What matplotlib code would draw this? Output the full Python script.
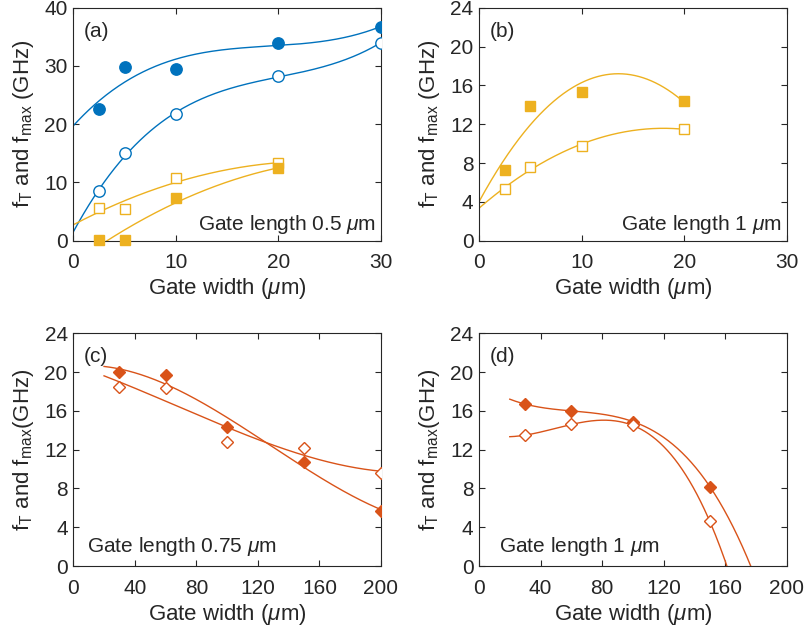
import numpy as np
import matplotlib.pyplot as plt

plt.rcParams['font.family'] = ['Liberation Sans', 'DejaVu Sans']
plt.rcParams['mathtext.fontset'] = 'custom'
plt.rcParams['mathtext.rm'] = 'Liberation Sans'
plt.rcParams['mathtext.it'] = 'Liberation Sans:italic'
plt.rcParams['text.color'] = '#262626'
plt.rcParams['axes.labelcolor'] = '#262626'
plt.rcParams['xtick.color'] = '#262626'
plt.rcParams['ytick.color'] = '#262626'

blue = '#0072BD'
yellow = '#EDB120'
orange = '#D95319'

# (a) gate length 0.5 um
wa = [2.5, 5, 10, 20, 30]
a_fill_circ = [22.6, 29.9, 29.5, 34.0, 36.7]
a_open_circ = [8.5, 15.0, 21.7, 28.2, 34.0]
wa_sq = [2.5, 5, 10, 20]
a_open_sq = [5.7, 5.5, 10.7, 13.3]
a_fill_sq = [0.1, 0.1, 7.4, 12.4]

# (b) gate length 1 um
wb = [2.5, 5, 10, 20]
b_fill_sq = [7.3, 13.9, 15.3, 14.4]
b_open_sq = [5.3, 7.6, 9.8, 11.5]

# (c) gate length 0.75 um
wc = [30, 60, 100, 150, 200]
c_fill_dia = [20.0, 19.7, 14.3, 10.7, 5.7]
c_open_dia = [18.5, 18.4, 12.8, 12.2, 9.6]

# (d) gate length 1 um
wd = [30, 60, 100, 150]
d_fill_dia = [16.7, 16.0, 14.9, 8.2]
d_open_dia = [13.5, 14.6, 14.5, 4.6]

ylab = r'f$_\mathrm{T}$ and f$_\mathrm{max}$ (GHz)'
ylab2 = r'f$_\mathrm{T}$ and f$_\mathrm{max}$(GHz)'
xlab = r'Gate width ($\mu$m)'

TICK_FS = 15
LAB_FS = 16
TXT_FS = 15


def fit(ax, x, y, deg, x0, x1, color):
    p = np.polyfit(x, y, deg)
    xs = np.linspace(x0, x1, 300)
    ax.plot(xs, np.polyval(p, xs), color=color, lw=1.0, zorder=2)


def style(ax, xlim, xt, ylim, yt, yl):
    ax.set_xlim(xlim)
    ax.set_ylim(ylim)
    ax.set_xticks(xt)
    ax.set_yticks(yt)
    ax.tick_params(direction='in', length=4, width=0.8, labelsize=TICK_FS,
                   top=True, right=True)
    ax.tick_params(axis='x', pad=9)
    ax.tick_params(axis='y', pad=4)
    for s in ax.spines.values():
        s.set_color('#262626')
        s.set_linewidth(0.8)
    ax.set_xlabel(xlab, fontsize=LAB_FS, labelpad=3)
    ax.set_ylabel(yl, fontsize=LAB_FS, labelpad=6)


fig = plt.figure(figsize=(8.06, 6.33), dpi=100)
axa = fig.add_axes([0.0909, 0.6197, 0.3818, 0.3681])
axb = fig.add_axes([0.5943, 0.6197, 0.3818, 0.3681])
axc = fig.add_axes([0.0909, 0.1058, 0.3818, 0.3676])
axd = fig.add_axes([0.5943, 0.1058, 0.3818, 0.3676])

# panel a
fit(axa, wa, a_fill_circ, 3, 0, 30, blue)
fit(axa, wa, a_open_circ, 3, 0, 30, blue)
fit(axa, wa_sq, a_open_sq, 2, 0, 20, yellow)
fit(axa, wa_sq, a_fill_sq, 2, 0, 20, yellow)
axa.plot(wa, a_fill_circ, 'o', color=blue, ms=8.2, zorder=3)
axa.plot(wa, a_open_circ, 'o', mfc='white', mec=blue, mew=1.0, ms=8.2, zorder=3)
axa.plot(wa_sq, a_open_sq, 's', mfc='white', mec=yellow, mew=1.0, ms=6.5, zorder=3)
axa.plot(wa_sq, a_fill_sq, 's', color=yellow, ms=6.5, zorder=3, clip_on=False)
style(axa, (0, 30), [0, 10, 20, 30], (0, 40), [0, 10, 20, 30, 40], ylab)
axa.text(0.035, 0.94, '(a)', transform=axa.transAxes, fontsize=TXT_FS, va='top')
axa.text(0.985, 0.046, r'Gate length 0.5 $\mu$m', transform=axa.transAxes,
         fontsize=TXT_FS, ha='right', va='baseline')

# panel b
fit(axb, wb, b_fill_sq, 2, 0, 20, yellow)
fit(axb, wb, b_open_sq, 2, 0, 20, yellow)
axb.plot(wb, b_fill_sq, 's', color=yellow, ms=6.5, zorder=3)
axb.plot(wb, b_open_sq, 's', mfc='white', mec=yellow, mew=1.0, ms=6.5, zorder=3)
style(axb, (0, 30), [0, 10, 20, 30], (0, 24), [0, 4, 8, 12, 16, 20, 24], ylab)
axb.text(0.035, 0.94, '(b)', transform=axb.transAxes, fontsize=TXT_FS, va='top')
axb.text(0.985, 0.046, r'Gate length 1 $\mu$m', transform=axb.transAxes,
         fontsize=TXT_FS, ha='right', va='baseline')

# panel c
fit(axc, wc, c_fill_dia, 3, 20, 200, orange)
fit(axc, wc, c_open_dia, 3, 20, 200, orange)
axc.plot(wc, c_fill_dia, 'D', color=orange, ms=6.2, zorder=3)
axc.plot(wc, c_open_dia, 'D', mfc='white', mec=orange, mew=1.0, ms=6.2, zorder=3)
style(axc, (0, 200), [0, 40, 80, 120, 160, 200], (0, 24),
      [0, 4, 8, 12, 16, 20, 24], ylab2)
axc.text(0.035, 0.94, '(c)', transform=axc.transAxes, fontsize=TXT_FS, va='top')
axc.text(0.045, 0.061, r'Gate length 0.75 $\mu$m', transform=axc.transAxes,
         fontsize=TXT_FS, ha='left', va='baseline')

# panel d
fit(axd, wd, d_fill_dia, 3, 20, 200, orange)
fit(axd, wd, d_open_dia, 3, 20, 200, orange)
axd.plot(wd, d_fill_dia, 'D', color=orange, ms=6.2, zorder=3)
axd.plot(wd, d_open_dia, 'D', mfc='white', mec=orange, mew=1.0, ms=6.2, zorder=3)
style(axd, (0, 200), [0, 40, 80, 120, 160, 200], (0, 24),
      [0, 4, 8, 12, 16, 20, 24], ylab2)
axd.text(0.035, 0.94, '(d)', transform=axd.transAxes, fontsize=TXT_FS, va='top')
axd.text(0.065, 0.061, r'Gate length 1 $\mu$m', transform=axd.transAxes,
         fontsize=TXT_FS, ha='left', va='baseline')

fig.savefig('out.png', dpi=100)
